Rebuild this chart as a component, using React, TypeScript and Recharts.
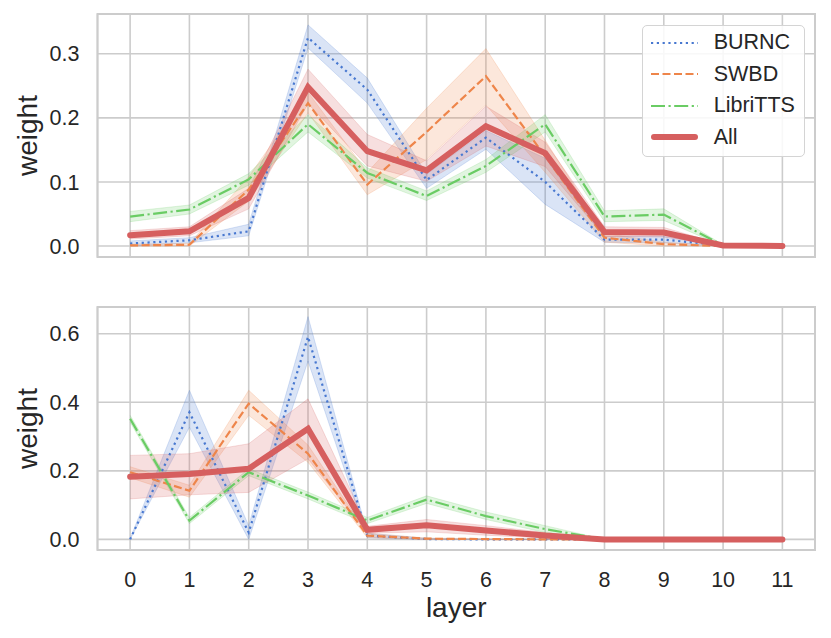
import {
  ComposedChart,
  Line,
  Area,
  XAxis,
  YAxis,
  CartesianGrid,
  Legend,
  ReferenceArea
} from 'recharts';

const layers = [0, 1, 2, 3, 4, 5, 6, 7, 8, 9, 10, 11];

// top panel: mean weight per layer and the [low, high] confidence band
const topBurnc = [0.004, 0.009, 0.023, 0.325, 0.244, 0.103, 0.169, 0.1, 0.01, 0.01, 0.001, 0.0];
const topBurncBand = [
  [0.0, 0.008], [0.005, 0.013], [0.016, 0.034], [0.309, 0.345], [0.223, 0.262], [0.09, 0.112],
  [0.151, 0.18], [0.065, 0.137], [0.006, 0.015], [0.005, 0.015], [0.0, 0.002], [0.0, 0.0]
];
const topSwbd = [0.001, 0.002, 0.088, 0.223, 0.096, 0.178, 0.265, 0.14, 0.013, 0.003, 0.0, 0.0];
const topSwbdBand = [
  [0.0, 0.003], [0.0, 0.004], [0.07, 0.108], [0.208, 0.24], [0.08, 0.115], [0.135, 0.215],
  [0.22, 0.308], [0.115, 0.165], [0.006, 0.02], [0.0, 0.006], [0.0, 0.001], [0.0, 0.0]
];
const topLibri = [0.046, 0.057, 0.104, 0.19, 0.114, 0.078, 0.125, 0.19, 0.046, 0.049, 0.001, 0.0];
const topLibriBand = [
  [0.038, 0.054], [0.05, 0.064], [0.095, 0.113], [0.178, 0.205], [0.106, 0.122], [0.071, 0.086],
  [0.115, 0.135], [0.178, 0.205], [0.038, 0.055], [0.04, 0.058], [0.0, 0.002], [0.0, 0.0]
];
const topAll = [0.017, 0.023, 0.075, 0.248, 0.148, 0.118, 0.187, 0.145, 0.022, 0.021, 0.001, 0.0];
const topAllBand = [
  [0.011, 0.024], [0.016, 0.03], [0.058, 0.09], [0.222, 0.276], [0.125, 0.174], [0.101, 0.133],
  [0.156, 0.218], [0.124, 0.162], [0.015, 0.03], [0.014, 0.029], [0.0, 0.002], [0.0, 0.0]
];

// bottom panel
const botBurnc = [0.0, 0.371, 0.02, 0.591, 0.011, 0.001, 0.0, 0.0, 0.0, 0.0, 0.0, 0.0];
const botBurncBand = [
  [0.0, 0.002], [0.327, 0.435], [0.0, 0.04], [0.52, 0.65], [0.005, 0.018], [0.0, 0.003],
  [0.0, 0.0], [0.0, 0.0], [0.0, 0.0], [0.0, 0.0], [0.0, 0.0], [0.0, 0.0]
];
const botSwbd = [0.196, 0.142, 0.396, 0.25, 0.011, 0.002, 0.001, 0.0, 0.0, 0.0, 0.0, 0.0];
const botSwbdBand = [
  [0.18, 0.212], [0.123, 0.158], [0.362, 0.435], [0.225, 0.275], [0.005, 0.018], [0.0, 0.004],
  [0.0, 0.002], [0.0, 0.0], [0.0, 0.0], [0.0, 0.0], [0.0, 0.0], [0.0, 0.0]
];
const botLibri = [0.352, 0.055, 0.196, 0.128, 0.055, 0.116, 0.068, 0.03, 0.0, 0.0, 0.0, 0.0];
const botLibriBand = [
  [0.342, 0.362], [0.046, 0.064], [0.186, 0.206], [0.118, 0.138], [0.046, 0.064], [0.105, 0.127],
  [0.058, 0.08], [0.02, 0.04], [0.0, 0.0], [0.0, 0.0], [0.0, 0.0], [0.0, 0.0]
];
const botAll = [0.183, 0.191, 0.206, 0.323, 0.028, 0.041, 0.026, 0.011, 0.0, 0.0, 0.0, 0.0];
const botAllBand = [
  [0.118, 0.245], [0.13, 0.25], [0.137, 0.279], [0.235, 0.41], [0.018, 0.038], [0.022, 0.058],
  [0.012, 0.04], [0.004, 0.02], [0.0, 0.0], [0.0, 0.0], [0.0, 0.0], [0.0, 0.0]
];

const topTicks = [0, 0.1, 0.2, 0.3];
const botTicks = [0, 0.2, 0.4, 0.6];

const COLORS = { BURNC: '#4878d0', SWBD: '#ee854a', LibriTTS: '#6acc64', All: '#d65f5f' };
const TEXT = '#262626';
const GRID = '#cccccc';
const X_DOMAIN = [-0.55, 11.55];

const seriesStyle = [
  { key: 'BURNC', dash: '2.2 3.6', width: 2.2 },
  { key: 'SWBD', dash: '8 3.5', width: 2.2 },
  { key: 'LibriTTS', dash: '14 3.5 2.2 3.5', width: 2.2 },
  { key: 'All', dash: undefined, width: 6 }
];

function buildRows(means: number[][], bands: number[][][]) {
  return layers.map((layer, i) => {
    const row: any = { layer };
    seriesStyle.forEach((s, k) => {
      row[s.key] = means[k][i];
      row[s.key + '_band'] = bands[k][i];
    });
    return row;
  });
}

const topData = buildRows(
  [topBurnc, topSwbd, topLibri, topAll],
  [topBurncBand, topSwbdBand, topLibriBand, topAllBand]
);
const botData = buildRows(
  [botBurnc, botSwbd, botLibri, botAll],
  [botBurncBand, botSwbdBand, botLibriBand, botAllBand]
);

function renderSeries() {
  const out: any[] = [];
  seriesStyle.forEach((s) => {
    const c = (COLORS as any)[s.key];
    out.push(
      <Area
        key={s.key + '-band'}
        type="linear"
        dataKey={s.key + '_band'}
        fill={c}
        fillOpacity={0.2}
        stroke={c}
        strokeOpacity={0.2}
        strokeWidth={1}
        dot={false}
        activeDot={false}
        isAnimationActive={false}
        legendType="none"
      />
    );
    out.push(
      <Line
        key={s.key}
        type="linear"
        dataKey={s.key}
        stroke={c}
        strokeWidth={s.width}
        strokeDasharray={s.dash}
        strokeLinecap={s.key === 'All' ? 'round' : 'butt'}
        dot={false}
        activeDot={false}
        isAnimationActive={false}
      />
    );
  });
  return out;
}

function LegendBox() {
  return (
    <div
      style={{
        width: 163,
        height: 132,
        boxSizing: 'border-box',
        border: '1.5px solid #d4d4d4',
        borderRadius: 5,
        background: 'rgba(255,255,255,0.85)',
        paddingTop: 1
      }}
    >
      {seriesStyle.map((s) => (
        <div key={s.key} style={{ height: 31.5, display: 'flex', alignItems: 'center' }}>
          <svg width={56} height={12} style={{ marginLeft: 8 }}>
            <line
              x1={s.key === 'All' ? 3 : 0}
              x2={s.key === 'All' ? 44 : 47}
              y1={6}
              y2={6}
              stroke={(COLORS as any)[s.key]}
              strokeWidth={s.width}
              strokeDasharray={s.dash}
              strokeLinecap={s.key === 'All' ? 'round' : 'butt'}
            />
          </svg>
          <span style={{ marginLeft: 7, fontSize: 21.5, color: TEXT, lineHeight: 1 }}>{s.key}</span>
        </div>
      ))}
    </div>
  );
}

const tickStyle = { fill: TEXT, fontSize: 21.5 };

export default function App() {
  return (
    <div
      style={{
        position: 'absolute',
        left: 0,
        top: 0,
        width: 831,
        height: 638,
        background: '#fff',
        fontFamily: '"Liberation Sans", Arial, sans-serif'
      }}
    >
      <div style={{ position: 'absolute', left: 0, top: 0 }}>
        <ComposedChart width={831} height={290} data={topData} margin={{ top: 14, right: 16, bottom: 33, left: 0 }}>
          <CartesianGrid stroke={GRID} strokeWidth={1.6} />
          <XAxis type="number" dataKey="layer" domain={X_DOMAIN} ticks={layers} allowDataOverflow hide />
          <YAxis
            type="number"
            domain={[-0.0171, 0.362]}
            ticks={topTicks}
            allowDataOverflow
            width={97.5}
            tickSize={0}
            tickMargin={18}
            axisLine={false}
            tick={tickStyle}
            tickFormatter={(v: number) => v.toFixed(1)}
            label={{
              value: 'weight',
              angle: -90,
              position: 'insideLeft',
              offset: 27,
              fill: TEXT,
              fontSize: 28,
              style: { textAnchor: 'middle' }
            }}
          />
          {renderSeries()}
          <ReferenceArea
            x1={X_DOMAIN[0]}
            x2={X_DOMAIN[1]}
            y1={-0.0171}
            y2={0.362}
            fill="none"
            stroke={GRID}
            strokeWidth={2}
            ifOverflow="visible"
          />
          <Legend
            layout="vertical"
            align="center"
            verticalAlign="middle"
            wrapperStyle={{ left: 641.7, top: 25, width: 163 }}
            content={() => <LegendBox />}
          />
        </ComposedChart>
      </div>
      <div style={{ position: 'absolute', left: 0, top: 290 }}>
        <ComposedChart width={831} height={348} data={botData} margin={{ top: 17, right: 16, bottom: 7, left: 0 }}>
          <CartesianGrid stroke={GRID} strokeWidth={1.6} />
          <XAxis
            type="number"
            dataKey="layer"
            domain={X_DOMAIN}
            ticks={layers}
            allowDataOverflow
            height={81}
            tickSize={0}
            tickMargin={22}
            axisLine={false}
            tick={tickStyle}
            label={{ value: 'layer', position: 'insideBottom', offset: 14, fill: TEXT, fontSize: 28 }}
          />
          <YAxis
            type="number"
            domain={[-0.031, 0.678]}
            ticks={botTicks}
            allowDataOverflow
            width={97.5}
            tickSize={0}
            tickMargin={18}
            axisLine={false}
            tick={tickStyle}
            tickFormatter={(v: number) => v.toFixed(1)}
            label={{
              value: 'weight',
              angle: -90,
              position: 'insideLeft',
              offset: 27,
              fill: TEXT,
              fontSize: 28,
              style: { textAnchor: 'middle' }
            }}
          />
          {renderSeries()}
          <ReferenceArea
            x1={X_DOMAIN[0]}
            x2={X_DOMAIN[1]}
            y1={-0.031}
            y2={0.678}
            fill="none"
            stroke={GRID}
            strokeWidth={2}
            ifOverflow="visible"
          />
        </ComposedChart>
      </div>
    </div>
  );
}
